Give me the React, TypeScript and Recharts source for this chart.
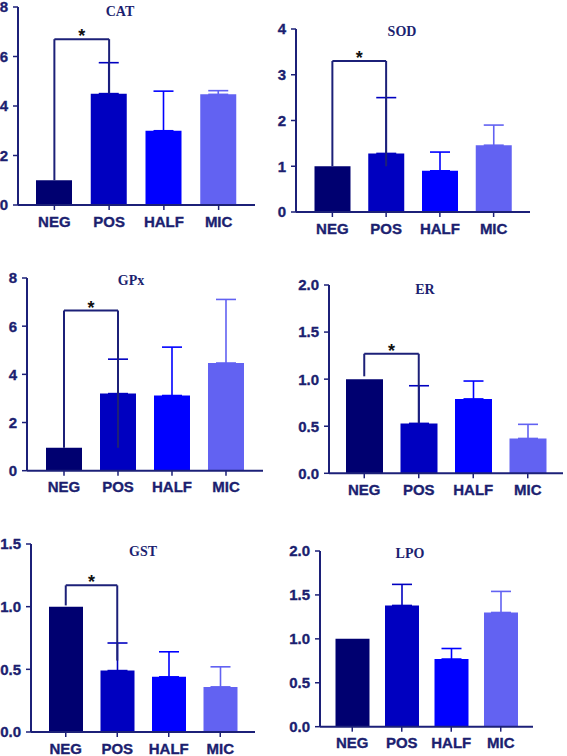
import React from 'react';
import { BarChart, Bar, XAxis, YAxis, ReferenceLine, ErrorBar } from 'recharts';

// ---------- data ----------
const categories = ['NEG', 'POS', 'HALF', 'MIC'];

const catMean = [1.0, 4.5, 3.0, 4.47];
const catSD = [0, 1.25, 1.6, 0.15];
const catTicks = [0, 2, 4, 6, 8];
const catBracket = [1.0, 4.5, 6.7]; // left leg end, right leg end, top

const sodMean = [1.0, 1.28, 0.9, 1.46];
const sodSD = [0, 1.22, 0.41, 0.44];
const sodTicks = [0, 1, 2, 3, 4];
const sodBracket = [1.0, 1.0, 3.3];

const gpxMean = [0.95, 3.2, 3.12, 4.47];
const gpxSD = [0, 1.43, 2.01, 2.64];
const gpxTicks = [0, 2, 4, 6, 8];
const gpxBracket = [0.95, 0.95, 6.65];

const erMean = [1.0, 0.53, 0.79, 0.37];
const erSD = [0, 0.4, 0.19, 0.15];
const erTicks = [0, 0.5, 1.0, 1.5, 2.0];
const erBracket = [1.03, 0.53, 1.27];

const gstMean = [1.0, 0.49, 0.44, 0.36];
const gstSD = [0, 0.22, 0.2, 0.16];
const gstTicks = [0, 0.5, 1.0, 1.5];
const gstBracket = [1.01, 0.57, 1.17];

const lpoMean = [1.0, 1.38, 0.77, 1.3];
const lpoSD = [0, 0.24, 0.12, 0.24];
const lpoTicks = [0, 0.5, 1.0, 1.5, 2.0];

// ---------- styles / layout ----------
const barColors = ['#000070', '#0000c0', '#0000ff', '#6262f2'];
const INK = '#1c1f70';
const AXIS = '#1c2078';
const SANS = '"Liberation Sans", Arial, sans-serif';
const Y_W = 45;

type Layout = {
  axisX: number; xEnd: number; yTop: number; y0: number;
  barSize: number; pad: number; titleX: number; titleY: number;
};

const L_CAT: Layout = { axisX: 18, xEnd: 255, yTop: 7, y0: 205, barSize: 36, pad: 9, titleX: 120, titleY: 12 };
const L_SOD: Layout = { axisX: 296, xEnd: 530, yTop: 29, y0: 212, barSize: 36, pad: 9.5, titleX: 402, titleY: 32 };
const L_GPX: Layout = { axisX: 27, xEnd: 263, yTop: 278, y0: 470.7, barSize: 36, pad: 10, titleX: 131, titleY: 281 };
const L_ER: Layout = { axisX: 329, xEnd: 563, yTop: 285, y0: 473.3, barSize: 37, pad: 8, titleX: 425, titleY: 290 };
const L_GST: Layout = { axisX: 31, xEnd: 255, yTop: 544.3, y0: 732.3, barSize: 34, pad: 9, titleX: 143, titleY: 552 };
const L_LPO: Layout = { axisX: 320, xEnd: 533, yTop: 551, y0: 726.7, barSize: 34, pad: 7.5, titleX: 410, titleY: 554 };

const XTick = (props: any) => {
  const { x, y, payload } = props;
  return (
    <text x={x} y={y} dy="0.72em" textAnchor="middle" fill={INK} stroke={INK} strokeWidth={0.35}
      fontFamily={SANS} fontWeight={700} fontSize={15}>
      {payload.value}
    </text>
  );
};

const makeYTick = (decimals: number) => (props: any) => {
  const { x, y, payload } = props;
  return (
    <text x={x} y={y} dy="0.36em" textAnchor="end" fill={INK} stroke={INK} strokeWidth={0.35}
      fontFamily={SANS} fontWeight={700} fontSize={15}>
      {Number(payload.value).toFixed(decimals)}
    </text>
  );
};

type PanelProps = {
  title: string;
  means: number[];
  sds: number[];
  ticks: number[];
  bracket?: number[];
  layout: Layout;
  decimals: number;
};

function Panel({ title, means, sds, ticks, bracket, layout, decimals }: PanelProps) {
  const data = categories.map((c, i) => {
    const row: any = { name: c };
    row[c] = means[i];
    if (sds[i] > 0) row[c + '_err'] = [0, sds[i]];
    return row;
  });
  const plotW = layout.xEnd - layout.axisX;
  const plotH = layout.y0 - layout.yTop;
  const mTop = 10;
  const xH = 30;
  const width = Y_W + plotW + 5;
  const height = mTop + plotH + xH;
  const max = ticks[ticks.length - 1];
  const lineProps = { stroke: AXIS, strokeWidth: 2, ifOverflow: 'visible' as const };
  const YTick = makeYTick(decimals);

  return (
    <>
      <div style={{ position: 'absolute', left: layout.axisX - Y_W, top: layout.yTop - mTop }}>
        <BarChart
          width={width}
          height={height}
          data={data}
          margin={{ top: mTop, right: 5, bottom: 0, left: 0 }}
          barSize={layout.barSize}
          barGap={-layout.barSize}
        >
          <XAxis
            dataKey="name"
            type="category"
            padding={{ left: layout.pad, right: layout.pad }}
            height={xH}
            tickSize={5}
            tickMargin={6}
            axisLine={{ stroke: AXIS, strokeWidth: 2 }}
            tickLine={{ stroke: AXIS, strokeWidth: 1.5 }}
            tick={<XTick />}
            interval={0}
          />
          <YAxis
            type="number"
            domain={[0, max]}
            ticks={ticks}
            width={Y_W}
            tickSize={5}
            tickMargin={5}
            interval={0}
            axisLine={{ stroke: AXIS, strokeWidth: 2 }}
            tickLine={{ stroke: AXIS, strokeWidth: 1.5 }}
            tick={<YTick />}
          />
          {categories.map((c, i) => (
            <Bar key={c} dataKey={c} fill={barColors[i]} isAnimationActive={false}>
              <ErrorBar dataKey={c + '_err'} width={10} stroke={barColors[i]} strokeWidth={1.6} direction="y" />
            </Bar>
          ))}
          {bracket && (
            <ReferenceLine
              segment={[{ x: 'NEG', y: bracket[0] }, { x: 'NEG', y: bracket[2] }]}
              {...lineProps}
            />
          )}
          {bracket && (
            <ReferenceLine
              segment={[{ x: 'NEG', y: bracket[2] }, { x: 'POS', y: bracket[2] }]}
              {...lineProps}
              label={{
                value: '*',
                position: 'top',
                offset: -3,
                fill: '#111111',
                fontSize: 18,
                fontWeight: 700,
                fontFamily: SANS,
              }}
            />
          )}
          {bracket && (
            <ReferenceLine
              segment={[{ x: 'POS', y: bracket[2] }, { x: 'POS', y: bracket[1] }]}
              {...lineProps}
            />
          )}
        </BarChart>
      </div>
      <div
        style={{
          position: 'absolute',
          left: layout.titleX,
          top: layout.titleY,
          transform: 'translate(-50%, -50%)',
          fontFamily: '"Liberation Serif", "Times New Roman", serif',
          fontWeight: 700,
          fontSize: 14,
          lineHeight: 1,
          color: INK,
          whiteSpace: 'nowrap',
        }}
      >
        {title}
      </div>
    </>
  );
}

export default function App() {
  return (
    <div
      style={{
        position: 'absolute',
        left: 0,
        top: 0,
        width: 567,
        height: 756,
        background: '#ffffff',
        overflow: 'hidden',
      }}
    >
      <Panel title="CAT" means={catMean} sds={catSD} ticks={catTicks} bracket={catBracket} layout={L_CAT} decimals={0} />
      <Panel title="SOD" means={sodMean} sds={sodSD} ticks={sodTicks} bracket={sodBracket} layout={L_SOD} decimals={0} />
      <Panel title="GPx" means={gpxMean} sds={gpxSD} ticks={gpxTicks} bracket={gpxBracket} layout={L_GPX} decimals={0} />
      <Panel title="ER" means={erMean} sds={erSD} ticks={erTicks} bracket={erBracket} layout={L_ER} decimals={1} />
      <Panel title="GST" means={gstMean} sds={gstSD} ticks={gstTicks} bracket={gstBracket} layout={L_GST} decimals={1} />
      <Panel title="LPO" means={lpoMean} sds={lpoSD} ticks={lpoTicks} layout={L_LPO} decimals={1} />
    </div>
  );
}
